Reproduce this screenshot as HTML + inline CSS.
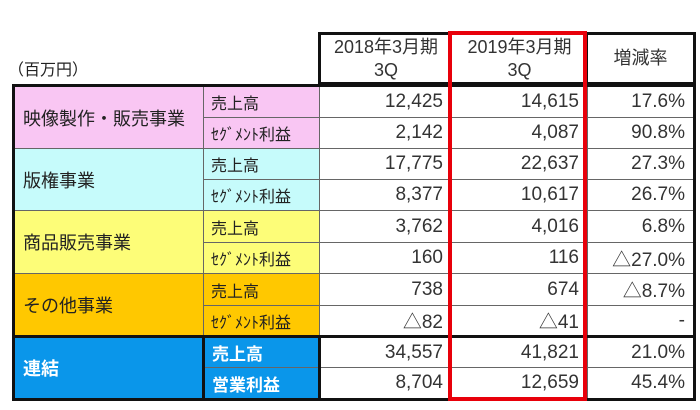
<!DOCTYPE html>
<html><head><meta charset="utf-8"><style>
body{margin:0;width:700px;height:410px;background:#fff;position:relative;overflow:hidden;font-family:"Liberation Sans","Noto Sans CJK JP",sans-serif;color:#222}
table{border-collapse:collapse;table-layout:fixed;position:absolute}
td{border:1px solid #666;padding:0;font-size:17px;white-space:nowrap;overflow:hidden}
#body{left:12px;top:84px;width:681px;border:3px solid #111}
#body td.n{text-align:right;padding-right:8px;font-size:19px;background:#fff;color:#333}
#body td.l{padding-left:8px;font-size:18px}
#body td.s{padding-left:7px;font-size:16px}
#head{left:318px;top:32px;width:375px;height:53px;border:3px solid #111}
#head td{text-align:center;font-size:18px;line-height:23px;border:1px solid #111;color:#333}
.pk{background:#f9c6f3}.cy{background:#c6fbfb}.ye{background:#fdfd78}.or{background:#ffc800}.bl{background:#0a96ea;color:#fff;font-weight:bold}
tr.tk td{border-top:3px solid #111}
</style></head><body>
<div style="position:absolute;left:8px;top:56px;font-size:16px">（百万円）</div>
<table id="head">
<colgroup><col style="width:132px"><col style="width:136px"><col style="width:107px"></colgroup>
<tr><td>2018年3月期<br>3Q</td><td>2019年3月期<br>3Q</td><td>増減率</td></tr>
</table>
<table id="body">
<colgroup><col style="width:190px"><col style="width:116px"><col style="width:132px"><col style="width:136px"><col style="width:107px"></colgroup>
<tr style="height:32px"><td class="l pk" rowspan="2">映像製作・販売事業</td><td class="s pk">売上高</td><td class="n">12,425</td><td class="n">14,615</td><td class="n">17.6%</td></tr>
<tr style="height:31px"><td class="s pk">ｾｸﾞﾒﾝﾄ利益</td><td class="n">2,142</td><td class="n">4,087</td><td class="n">90.8%</td></tr>
<tr style="height:31px"><td class="l cy" rowspan="2">版権事業</td><td class="s cy">売上高</td><td class="n">17,775</td><td class="n">22,637</td><td class="n">27.3%</td></tr>
<tr style="height:31px"><td class="s cy">ｾｸﾞﾒﾝﾄ利益</td><td class="n">8,377</td><td class="n">10,617</td><td class="n">26.7%</td></tr>
<tr style="height:32px"><td class="l ye" rowspan="2">商品販売事業</td><td class="s ye">売上高</td><td class="n">3,762</td><td class="n">4,016</td><td class="n">6.8%</td></tr>
<tr style="height:31px"><td class="s ye">ｾｸﾞﾒﾝﾄ利益</td><td class="n">160</td><td class="n">116</td><td class="n">△27.0%</td></tr>
<tr style="height:32px"><td class="l or" rowspan="2">その他事業</td><td class="s or">売上高</td><td class="n">738</td><td class="n">674</td><td class="n">△8.7%</td></tr>
<tr style="height:31px"><td class="s or">ｾｸﾞﾒﾝﾄ利益</td><td class="n">△82</td><td class="n">△41</td><td class="n">-</td></tr>
<tr class="tk" style="height:31px"><td class="l bl" rowspan="2" style="border-right:3px solid #111">連結</td><td class="s bl" style="font-size:17px;border-right:3px solid #111">売上高</td><td class="n">34,557</td><td class="n">41,821</td><td class="n">21.0%</td></tr>
<tr style="height:32px"><td class="s bl" style="font-size:17px;border-right:3px solid #111">営業利益</td><td class="n">8,704</td><td class="n">12,659</td><td class="n">45.4%</td></tr>
</table>
<div style="position:absolute;left:448px;top:31px;width:131px;height:362px;border:4px solid #e8000a"></div>
</body></html>
